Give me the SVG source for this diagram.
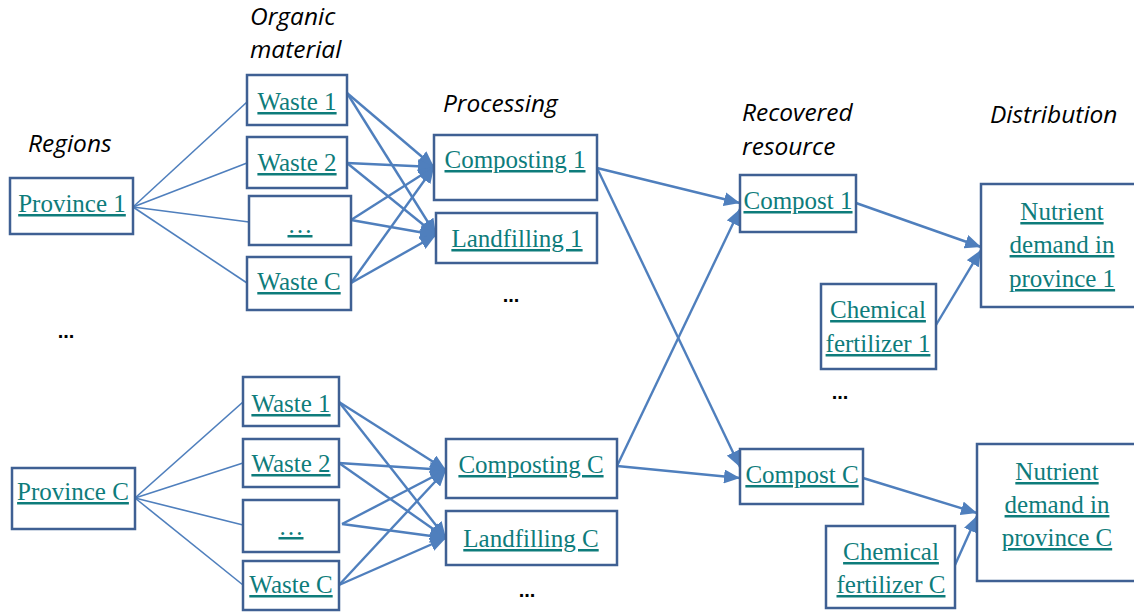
<svg xmlns="http://www.w3.org/2000/svg" width="1134" height="612" viewBox="0 0 1134 612">
<style>
.box{fill:#fff;stroke:#3f6093;stroke-width:2.5}
.t{font-family:"Liberation Serif","Times New Roman",serif;font-size:25px;fill:#0e7c7b;text-decoration:underline;text-anchor:middle}
.h{font-family:"Open Sans","Liberation Sans",sans-serif;font-style:italic;font-size:24.5px;fill:#000}
.d{font-family:"Liberation Sans",sans-serif;font-size:20px;font-weight:bold;fill:#000;text-anchor:middle}
.thin{stroke:#4f7fbd;stroke-width:1.6;fill:none}
.arr{stroke:#4f7fbd;stroke-width:2.4;fill:none;marker-end:url(#ah)}
</style>
<defs>
<marker id="ah" markerUnits="userSpaceOnUse" markerWidth="18" markerHeight="14" refX="16" refY="7" orient="auto">
<path d="M0,0 L16,7 L0,14 Z" fill="#4f7fbd"/>
</marker>
</defs>
<rect width="1134" height="612" fill="#fff"/>
<g id="labels">
<text class="h" x="250" y="25">Organic</text>
<text class="h" x="250" y="58">material</text>
<text class="h" x="28" y="152">Regions</text>
<text class="h" x="443" y="112">Processing</text>
<text class="h" x="742" y="121">Recovered</text>
<text class="h" x="742" y="155">resource</text>
<text class="h" x="990" y="123">Distribution</text>
<text class="d" x="66" y="338">...</text>
<text class="d" x="511" y="302">...</text>
<text class="d" x="840" y="399">...</text>
<text class="d" x="527" y="597">...</text>
</g>
<g id="connectors">
<line class="thin" x1="133" y1="207" x2="247" y2="102"/>
<line class="thin" x1="133" y1="207" x2="247" y2="163"/>
<line class="thin" x1="133" y1="207" x2="249" y2="222"/>
<line class="thin" x1="133" y1="207" x2="247" y2="283"/>
<line class="arr" x1="347" y1="93" x2="434" y2="167"/>
<line class="arr" x1="347" y1="93" x2="436" y2="235"/>
<line class="arr" x1="347" y1="163" x2="434" y2="167"/>
<line class="arr" x1="347" y1="163" x2="436" y2="235"/>
<line class="arr" x1="351" y1="220" x2="434" y2="167"/>
<line class="arr" x1="351" y1="220" x2="436" y2="235"/>
<line class="arr" x1="351" y1="283" x2="434" y2="167"/>
<line class="arr" x1="351" y1="283" x2="436" y2="235"/>
<line class="thin" x1="135" y1="498" x2="243" y2="402"/>
<line class="thin" x1="135" y1="498" x2="243" y2="463"/>
<line class="thin" x1="135" y1="498" x2="243" y2="525"/>
<line class="thin" x1="135" y1="498" x2="243" y2="585"/>
<line class="arr" x1="339" y1="402" x2="446" y2="470"/>
<line class="arr" x1="339" y1="402" x2="446" y2="538"/>
<line class="arr" x1="339" y1="463" x2="446" y2="470"/>
<line class="arr" x1="339" y1="463" x2="446" y2="538"/>
<line class="arr" x1="342" y1="524" x2="446" y2="470"/>
<line class="arr" x1="342" y1="524" x2="446" y2="538"/>
<line class="arr" x1="339" y1="585" x2="446" y2="470"/>
<line class="arr" x1="339" y1="585" x2="446" y2="538"/>
<line class="arr" x1="597" y1="168" x2="740" y2="203"/>
<line class="arr" x1="597" y1="168" x2="740" y2="467"/>
<line class="arr" x1="617" y1="466" x2="740" y2="209"/>
<line class="arr" x1="617" y1="466" x2="740" y2="478"/>
<line class="arr" x1="856" y1="203" x2="981" y2="247"/>
<line class="arr" x1="936" y1="325" x2="981" y2="250"/>
<line class="arr" x1="863" y1="478" x2="977" y2="513"/>
<line class="arr" x1="955" y1="565" x2="977" y2="516"/>
</g>
<g id="province1"><rect class="box" x="10" y="178" width="123" height="56"/><text class="t" x="72" y="212">Province 1</text></g>
<g id="waste1a"><rect class="box" x="247" y="75" width="100" height="50"/><text class="t" x="297" y="110">Waste 1</text></g>
<g id="waste2a"><rect class="box" x="247" y="137" width="100" height="51"/><text class="t" x="297" y="171">Waste 2</text></g>
<g id="dotsa"><rect class="box" x="249" y="196" width="102" height="49"/><text class="t" x="300" y="233">…</text></g>
<g id="wasteCa"><rect class="box" x="247" y="257" width="104" height="53"/><text class="t" x="299" y="290">Waste C</text></g>
<g id="composting1"><rect class="box" x="434" y="135" width="163" height="65"/><text class="t" x="515" y="168">Composting 1</text></g>
<g id="landfilling1"><rect class="box" x="436" y="213" width="161" height="50"/><text class="t" x="517" y="247">Landfilling 1</text></g>
<g id="compost1"><rect class="box" x="740" y="175" width="116" height="57"/><text class="t" x="798" y="209">Compost 1</text></g>
<g id="nutrient1"><rect class="box" x="981" y="184" width="160" height="123"/><text class="t" x="1062" y="220">Nutrient</text><text class="t" x="1062" y="253">demand in</text><text class="t" x="1062" y="287">province 1</text></g>
<g id="chem1"><rect class="box" x="821" y="284" width="115" height="85"/><text class="t" x="878" y="318">Chemical</text><text class="t" x="878" y="352">fertilizer 1</text></g>
<g id="provinceC"><rect class="box" x="12" y="468" width="123" height="61"/><text class="t" x="73" y="500">Province C</text></g>
<g id="waste1c"><rect class="box" x="243" y="377" width="96" height="49"/><text class="t" x="291" y="412">Waste 1</text></g>
<g id="waste2c"><rect class="box" x="243" y="439" width="96" height="48"/><text class="t" x="291" y="472">Waste 2</text></g>
<g id="dotsc"><rect class="box" x="243" y="500" width="96" height="52"/><text class="t" x="291" y="535">…</text></g>
<g id="wasteCc"><rect class="box" x="243" y="561" width="96" height="49"/><text class="t" x="291" y="593">Waste C</text></g>
<g id="compostingC"><rect class="box" x="446" y="439" width="171" height="59"/><text class="t" x="531" y="473">Composting C</text></g>
<g id="landfillingC"><rect class="box" x="446" y="511" width="171" height="54"/><text class="t" x="531" y="547">Landfilling C</text></g>
<g id="compostC"><rect class="box" x="740" y="449" width="123" height="55"/><text class="t" x="802" y="483">Compost C</text></g>
<g id="nutrientC"><rect class="box" x="977" y="444" width="160" height="137"/><text class="t" x="1057" y="480">Nutrient</text><text class="t" x="1057" y="513">demand in</text><text class="t" x="1057" y="546">province C</text></g>
<g id="chemC"><rect class="box" x="826" y="526" width="129" height="82"/><text class="t" x="891" y="560">Chemical</text><text class="t" x="891" y="593">fertilizer C</text></g>
</svg>
